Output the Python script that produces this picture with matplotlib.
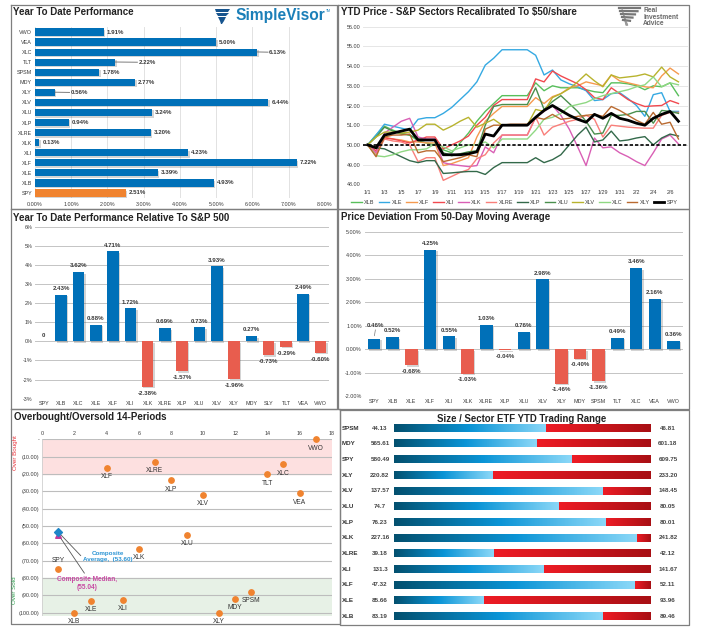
#!/usr/bin/env python
import numpy as np
import matplotlib
matplotlib.use("Agg")
import matplotlib.pyplot as plt
import matplotlib.patheffects as pe
from matplotlib.colors import LinearSegmentedColormap
from matplotlib.transforms import blended_transform_factory

plt.rcParams["font.family"] = ["Liberation Sans", "DejaVu Sans"]

W, H = 703, 643

# ---- data ----
ytd_names = ["SPY", "XLB", "XLE", "XLF", "XLI", "XLK", "XLRE", "XLP", "XLU", "XLV", "XLY", "MDY", "SPSM", "TLT", "XLC", "VEA", "VWO"]
ytd_vals = [2.51, 4.93, 3.39, 7.22, 4.23, 0.13, 3.20, 0.94, 3.24, 6.44, 0.56, 2.77, 1.78, 2.22, 6.13, 5.00, 1.91]

dates = ["1/1", "1/3", "1/5", "1/7", "1/9", "1/11", "1/13", "1/15", "1/17", "1/19", "1/21", "1/23", "1/25", "1/27", "1/29", "1/31", "2/2", "2/4", "2/6"]
XLB = [50, 50.5, 50.95, 50.75, 50.6, 50.5, 50.2, 50.1, 50.0, 49.75, 49.6, 50.1, 50.6, 51.2, 51.7, 52.1, 52.5, 52.5, 52.5, 52.5, 53.15, 52.75, 53.0, 52.9, 52.9, 52.9, 52.8, 52.7, 52.65, 53.15, 53.15, 53.1, 53.0, 52.8, 53.0, 52.95, 53.15, 52.5]
XLE = [50, 50.5, 51.05, 50.95, 50.85, 50.75, 51.3, 51.38, 51.38, 51.6, 51.9, 52.3, 52.7, 53.2, 54.05, 54.4, 54.83, 54.83, 54.83, 54.83, 54.55, 53.55, 53.8, 53.3, 53.1, 52.95, 52.75, 52.25, 52.3, 52.6, 52.65, 52.35, 52.0, 51.45, 52.55, 52.65, 51.7, 51.7]
XLF = [50, 49.6, 50.4, 50.3, 50.25, 50.15, 50.15, 50.1, 50.1, 48.95, 49.05, 49.2, 49.35, 50.4, 51.2, 51.6, 51.95, 51.95, 51.95, 51.95, 52.4, 52.1, 52.45, 52.6, 52.9, 53.0, 53.2, 53.1, 53.0, 53.55, 53.25, 53.15, 53.05, 52.95, 52.9, 53.5, 53.9, 53.6]
XLI = [50, 49.7, 50.35, 50.3, 50.2, 50.1, 50.25, 50.4, 50.4, 49.8, 50.0, 50.2, 50.45, 51.0, 51.4, 52.0, 52.3, 52.3, 52.3, 52.3, 53.35, 53.2, 53.75, 53.5, 53.3, 53.1, 52.8, 52.4, 52.3, 52.9, 52.6, 52.3, 52.1, 51.95, 51.98, 52.0, 52.25, 52.1]
XLK = [50, 49.6, 50.6, 50.9, 51.2, 51.35, 50.4, 50.3, 50.3, 49.1, 49.0, 48.95, 48.9, 48.95, 49.9, 49.6, 50.5, 50.5, 50.5, 50.5, 51.4, 51.7, 52.0, 51.5, 50.8, 49.9, 48.95, 50.35, 49.85, 49.9, 49.6, 49.4, 49.15, 48.95, 49.6, 50.3, 50.5, 50.05]
XLRE = [50, 49.5, 50.3, 50.2, 50.15, 50.0, 49.15, 49.35, 49.35, 48.2, 48.4, 48.6, 48.75, 49.3, 49.5, 50.1, 50.5, 50.5, 50.5, 50.5, 51.4, 50.5, 50.9, 51.05, 51.2, 51.3, 51.5, 51.3, 50.4, 51.0, 50.95, 50.9, 50.87, 50.85, 50.85, 51.5, 51.65, 51.65]
XLP = [50, 49.85, 49.8, 49.6, 49.4, 49.2, 49.1, 49.2, 49.2, 48.55, 48.58, 48.62, 48.65, 48.65, 48.5, 48.85, 49.1, 49.1, 49.1, 49.1, 49.35, 49.1, 49.25, 49.5, 50.0, 50.5, 50.9, 50.15, 50.25, 50.7, 50.2, 50.25, 50.35, 50.42, 50.0, 50.35, 50.55, 50.45]
XLU = [50, 50.4, 50.9, 50.7, 50.55, 50.5, 50.3, 50.25, 50.25, 49.6, 49.45, 49.55, 49.65, 49.7, 51.0, 51.95, 52.05, 52.05, 52.05, 52.05, 52.9, 51.8, 52.2, 52.5, 52.1, 51.7, 51.2, 50.55, 50.6, 51.5, 51.5, 51.55, 51.7, 51.7, 51.1, 51.75, 51.7, 51.6]
XLV = [50, 50.4, 50.65, 50.65, 50.6, 50.65, 50.75, 51.05, 51.05, 50.75, 50.95, 51.2, 51.4, 50.9, 51.1, 51.3, 51.0, 51.0, 51.0, 51.0, 51.8, 51.7, 52.4, 52.6, 52.85, 53.2, 53.6, 53.25, 52.95, 53.55, 53.4, 53.45, 53.5, 53.6, 53.45, 53.95, 53.45, 53.2]
XLC = [50, 49.45, 49.4, 49.5, 49.65, 49.75, 49.75, 49.8, 50.05, 49.9, 49.7, 49.85, 50.0, 50.0, 50.15, 49.85, 50.3, 50.3, 50.3, 50.3, 50.75, 51.3, 51.4, 51.6, 51.95, 52.05, 52.15, 52.35, 52.5, 52.6, 52.7, 52.8, 52.95, 53.05, 53.45, 52.95, 53.15, 53.05]
XLY = [50, 49.4, 50.4, 50.5, 50.5, 50.55, 49.6, 49.7, 49.7, 49.15, 49.25, 49.35, 49.5, 49.4, 50.8, 51.0, 51.0, 51.05, 51.05, 51.05, 51.4, 51.3, 51.55, 51.3, 51.35, 51.45, 51.5, 51.55, 51.45, 51.95, 51.75, 51.5, 51.25, 51.05, 51.65, 51.05, 51.15, 50.3]
SPY = [50, 49.85, 50.5, 50.6, 50.7, 50.8, 50.25, 50.25, 50.25, 49.5, 49.5, 49.5, 49.55, 49.65, 50.55, 50.45, 51.0, 51.0, 51.0, 51.0, 51.4, 51.75, 52.0, 51.75, 51.5, 51.3, 51.15, 51.55, 51.35, 51.6, 51.35, 51.25, 51.1, 51.0, 51.35, 51.55, 51.7, 51.2]

rel_names = ["SPY", "XLB", "XLC", "XLE", "XLF", "XLI", "XLK", "XLRE", "XLP", "XLU", "XLV", "XLY", "MDY", "SLY", "TLT", "VEA", "VWO"]
rel_vals = [0, 2.43, 3.62, 0.88, 4.71, 1.72, -2.38, 0.69, -1.57, 0.73, 3.93, -1.96, 0.27, -0.73, -0.29, 2.49, -0.60]

dev_names = ["SPY", "XLB", "XLE", "XLF", "XLI", "XLK", "XLRE", "XLP", "XLU", "XLV", "XLY", "MDY", "SPSM", "TLT", "XLC", "VEA", "VWO"]
dev_vals = [0.46, 0.52, -0.68, 4.25, 0.55, -1.03, 1.03, -0.04, 0.76, 2.98, -1.46, -0.40, -1.36, 0.49, 3.46, 2.16, 0.36]

ob_names = ["SPY", "XLB", "XLE", "XLF", "XLI", "XLK", "XLRE", "XLP", "XLU", "XLV", "XLY", "MDY", "SPSM", "TLT", "XLC", "VEA", "VWO"]
ob_vals = [-75, -100, -93, -16.5, -92.5, -63, -13, -23.5, -55, -32, -100, -92, -88, -20, -14.5, -31, 0]
comp_avg = -53.60
comp_med = -55.04

rng_names = ["SPSM", "MDY", "SPY", "XLY", "XLV", "XLU", "XLP", "XLK", "XLRE", "XLI", "XLF", "XLE", "XLB"]
rng_low = ["44.13", "565.61", "580.49", "220.82", "137.57", "74.7", "76.23", "227.16", "39.18", "131.3", "47.32", "85.66", "83.19"]
rng_high = ["46.81", "601.18", "609.75", "233.20", "148.45", "80.05", "80.01", "241.82", "42.12", "141.67", "52.11", "93.96", "89.46"]
rng_pos = [0.593, 0.557, 0.693, 0.384, 0.814, 0.644, 0.826, 0.948, 0.388, 0.583, 0.939, 0.35, 0.814]

# ---- helpers ----
BLUE = "#0070b8"
RED = "#e85d4e"
ORANGE = "#f0832f"
TXT = "#3a3a3a"
GRID = "#c4c4c4"

fig = plt.figure(figsize=(W / 100, H / 100), dpi=100, facecolor="white")


def px_axes(l, t, r, b):
    ax = fig.add_axes([l / W, 1 - b / H, (r - l) / W, (b - t) / H])
    ax.set_facecolor("none")
    for s in ax.spines.values():
        s.set_visible(False)
    ax.tick_params(length=0, labelsize=3.9, labelcolor=TXT, pad=2)
    return ax


shadow = [pe.SimplePatchShadow(offset=(1, -1), alpha=0.25, shadow_rgbFace="#555555"), pe.Normal()]


def column_panel(ax, names, vals):
    cols = [BLUE if v >= 0 else RED for v in vals]
    bars = ax.bar(range(len(vals)), vals, width=0.67, color=cols, zorder=3)
    for b in bars:
        b.set_path_effects(shadow)
    ax.set_xlim(-0.5, len(vals) - 0.5)
    ax.set_xticks(range(len(vals)), names)
    ax.grid(axis="y", color=GRID, lw=0.7, zorder=0)
    ax.set_axisbelow(True)


over = fig.add_axes([0, 0, 1, 1], zorder=10)
over.set_xlim(0, W)
over.set_ylim(H, 0)
over.axis("off")
over.patch.set_alpha(0)

# frames
for (l, t, r, b) in [(11, 5, 337, 209), (338, 5, 689, 209), (11, 209, 337, 409), (338, 209, 689, 409), (11, 409, 340, 624), (340, 410, 689, 625)]:
    over.plot([l, r, r, l, l], [t, t, b, b, t], color="#7f7f7f", lw=0.9)

for s, x, y in [("Year To Date Performance", 13, 12), ("YTD Price - S&P Sectors Recalibrated To \\$50/share", 341, 12),
                ("Year To Date Performance Relative To S&P 500", 13, 218), ("Price Deviation From 50-Day Moving Average", 341, 217),
                ("Overbought/Oversold 14-Periods", 14.5, 417)]:
    over.text(x, y, s, fontsize=7.0, fontweight="bold", color="#222222", va="center", ha="left")

# ---- year to date bars ----
ax1 = px_axes(34.7, 27, 325, 198)
ypos = np.arange(len(ytd_vals))
cols = [ORANGE if n == "SPY" else BLUE for n in ytd_names]
bars = ax1.barh(ypos, ytd_vals, height=0.72, color=cols, zorder=3)
for b in bars:
    b.set_path_effects(shadow)
ax1.set_xlim(0, 8)
ax1.set_ylim(-0.5, len(ytd_vals) - 0.5)
ax1.set_yticks(ypos, ytd_names)
ax1.set_xticks(range(9), ["%.2f%%" % i for i in range(9)])
ax1.grid(axis="x", color="#e2e2e2", lw=0.7)
ax1.set_axisbelow(True)
ax1.tick_params(axis="x", pad=3)
leader_x = {"XLC": 6.46, "TLT": 2.86, "XLY": 0.99}
for i, (n, v) in enumerate(zip(ytd_names, ytd_vals)):
    if n in leader_x:
        ax1.plot([v, leader_x[n] - 0.03], [i + 0.02, i], color="#666666", lw=0.6, zorder=4)
        ax1.text(leader_x[n], i, "%.2f%%" % v, fontsize=4.4, color=TXT, va="center", fontweight="bold")
    else:
        ax1.text(v + 0.08, i, "%.2f%%" % v, fontsize=4.4, color=TXT, va="center", fontweight="bold")

# simplevisor logo
over.text(235, 15.5, "SimpleVisor", fontsize=11.2, fontweight="bold", color="#1b7fb8", va="center")
over.text(326, 11, "TM", fontsize=2.5, color="#1b7fb8", va="center")
for pts in [[(215, 9), (230, 9), (228, 12), (216, 12)], [(216, 13), (229, 13), (226, 16), (218, 16)], [(218, 17), (226, 17), (224, 21), (220, 21)], [(220, 21), (224, 21), (222, 24), (221, 24)]]:
    over.fill(*zip(*pts), color="#17558f", lw=0)

# ---- price lines ----
ax2 = px_axes(363.3, 26.7, 687.7, 184.3)
lines = [("XLB", XLB, "#58bf5b"), ("XLE", XLE, "#35a9e2"), ("XLF", XLF, "#f59a4f"), ("XLI", XLI, "#f1494f"),
         ("XLK", XLK, "#d95fb5"), ("XLRE", XLRE, "#f97f7a"), ("XLP", XLP, "#33694a"), ("XLU", XLU, "#4a8f4d"),
         ("XLV", XLV, "#b8b32e"), ("XLC", XLC, "#8fd883"), ("XLY", XLY, "#b96a30")]
for name, vals, col in lines:
    ax2.plot(vals, color=col, lw=1.0, label=name, zorder=3)
ax2.plot(SPY, color="black", lw=2.0, label="SPY", zorder=5)
ax2.axhline(50, color="black", lw=1.2, ls=(0, (2, 1.2)), zorder=6)
ax2.set_xlim(-0.52, 38.1)
ax2.set_ylim(48, 56)
ax2.set_yticks(range(48, 57), ["%.2f" % v for v in range(48, 57)])
ax2.set_xticks(range(0, 38, 2), dates)
ax2.grid(axis="y", color="#e6e6e6", lw=0.7)
ax2.set_axisbelow(True)
ax2.tick_params(axis="x", pad=4)
fig.legend(*ax2.get_legend_handles_labels(), loc="center", bbox_to_anchor=(514.5 / W, 1 - 202 / H), ncols=12, frameon=False,
           fontsize=4, labelcolor=TXT, columnspacing=0.75, handlelength=1.9, handletextpad=0.4, borderpad=0)

# real investment advice logo
for i, s in enumerate(["Real", "Investment", "Advice"]):
    over.text(643, 11 + i * 6.2, s, fontsize=4.8, fontweight="bold", color="#6a6a6a", va="center")
for i in range(5):
    over.plot([619 + i, 640 - i * 2.5], [8 + i * 3, 8 + i * 3.2], color="#777777", lw=1.6)
    over.plot([622 + i, 626 + i * 0.4], [9 + i * 3, 25], color="#999999", lw=0.8)

# ---- relative to s&p ----
ax3 = px_axes(35.2, 226.7, 329.2, 398.7)
column_panel(ax3, rel_names, rel_vals)
ax3.set_ylim(-3, 6)
ax3.set_yticks(range(-3, 7), ["%d%%" % v for v in range(-3, 7)])
for i, v in enumerate(rel_vals):
    s = "0" if v == 0 else "%.2f%%" % v
    ax3.annotate(s, (i, v), xytext=(0, 4.5 if v >= 0 else -4.5), textcoords="offset points", ha="center", va="center",
                 fontsize=4.4, color=TXT, fontweight="bold", zorder=6)

# ---- 50 day deviation ----
ax4 = px_axes(364.6, 232, 683, 396.3)
column_panel(ax4, dev_names, dev_vals)
ax4.set_ylim(-2, 5)
ax4.set_yticks(range(-2, 6), ["%.2f%%" % v for v in range(-2, 6)])
for i, v in enumerate(dev_vals):
    off = 4.5 if v >= 0 else -4.5
    if dev_names[i] == "SPY":
        off = 9.5
        ax4.annotate("", (i, v), xytext=(i + 0.1, 0.95), arrowprops=dict(arrowstyle="-", color="#777777", lw=0.5))
    ax4.annotate("%.2f%%" % v, (i, v), xytext=(1 if i == 0 else 0, off), textcoords="offset points", ha="center", va="center",
                 fontsize=4.4, color=TXT, fontweight="bold", zorder=6)

# ---- overbought / oversold ----
ax5 = px_axes(42.3, 439.3, 331.7, 615.8)
ax5.set_xlim(0, 18)
ax5.set_ylim(-101.8, 0)
ax5.axhspan(-20, 0, color="#fde0e0", zorder=0)
ax5.axhspan(-101.8, -80, color="#e7f1e6", zorder=0)
ax5.set_yticks(range(-100, 1, 10), ["(%.2f)" % -v if v else "-" for v in range(-100, 1, 10)])
ax5.set_xticks(range(0, 19, 2))
ax5.xaxis.tick_top()
ax5.tick_params(axis="x", pad=2.5)
ax5.grid(axis="y", color="#bdbdbd", lw=0.8, zorder=1)
ax5.set_axisbelow(True)
ax5.axvline(0, color="#cfcfcf", lw=1.2)
xs = np.arange(1, len(ob_vals) + 1)
ax5.scatter(xs, ob_vals, s=15, color=ORANGE, zorder=4, clip_on=False)
for x, v, n in zip(xs, ob_vals, ob_names):
    ax5.annotate(n, (x, v), xytext=(0, 6.5 if n == "SPY" else -6.5), textcoords="offset points", ha="center", va="center",
                 fontsize=4.8, color="#333333", annotation_clip=False)
ax5.scatter([1], [comp_med], s=16, marker="^", color="#c0399b", zorder=5)
ax5.scatter([1], [comp_avg], s=16, marker="D", color="#1f86c8", zorder=6)
for y, to in [(comp_avg, (82.7, 557.7)), (comp_med, (86, 575.5))]:
    ax5.annotate("", (1, y), xytext=(to[0] / W, 1 - to[1] / H), textcoords="figure fraction",
                 arrowprops=dict(arrowstyle="-", color="#555555", lw=0.6))
over.text(107.5, 556.5, "Composite\nAverage,  (53.60)", fontsize=4.5, fontweight="bold", color="#2b94d4", ha="center", va="center", linespacing=1.3)
over.text(87, 583.5, "Composite Median,\n(55.04)", fontsize=4.7, fontweight="bold", color="#c84aa3", ha="center", va="center", linespacing=1.35)
over.text(15, 453, "Over Bought", fontsize=4.5, color="#e8333a", rotation=90, ha="center", va="center")
over.text(15, 590, "Over Sold", fontsize=4.5, color="#2f9e4f", rotation=90, ha="center", va="center")

# ---- trading range ----
over.text(522, 419, "Size / Sector ETF YTD Trading Range", fontsize=6.9, fontweight="bold", color="#222222", ha="center", va="center")
ax6 = px_axes(394.3, 420.2, 650.7, 624.1)
blues = LinearSegmentedColormap.from_list("b", ["#03506f", "#0a94d6", "#8bd8f8"])
reds = LinearSegmentedColormap.from_list("r", ["#ee1c25", "#a80f14"])
grad = np.linspace(0, 1, 200).reshape(1, -1)
for i, p in enumerate(rng_pos):
    ax6.imshow(grad, cmap=blues, extent=(0, p, i + 0.24, i - 0.24), aspect="auto")
    ax6.imshow(grad, cmap=reds, extent=(p, 1, i + 0.24, i - 0.24), aspect="auto")
ax6.set_xlim(0, 1)
ax6.set_ylim(len(rng_pos) - 0.5, -0.5)
ax6.set_xticks([])
ax6.set_yticks([])
tr = blended_transform_factory(over.transData, ax6.transData)
for i in range(len(rng_names)):
    over.text(341.7, i, rng_names[i], transform=tr, fontsize=4.5, fontweight="bold", color="#333333", va="center", clip_on=False)
    over.text(380, i, rng_low[i], transform=tr, fontsize=4.5, fontweight="bold", color="#444444", va="center", ha="center")
    over.text(668, i, rng_high[i], transform=tr, fontsize=4.5, fontweight="bold", color="#444444", va="center", ha="center")

fig.savefig("out.png", dpi=100)
plt.close()
